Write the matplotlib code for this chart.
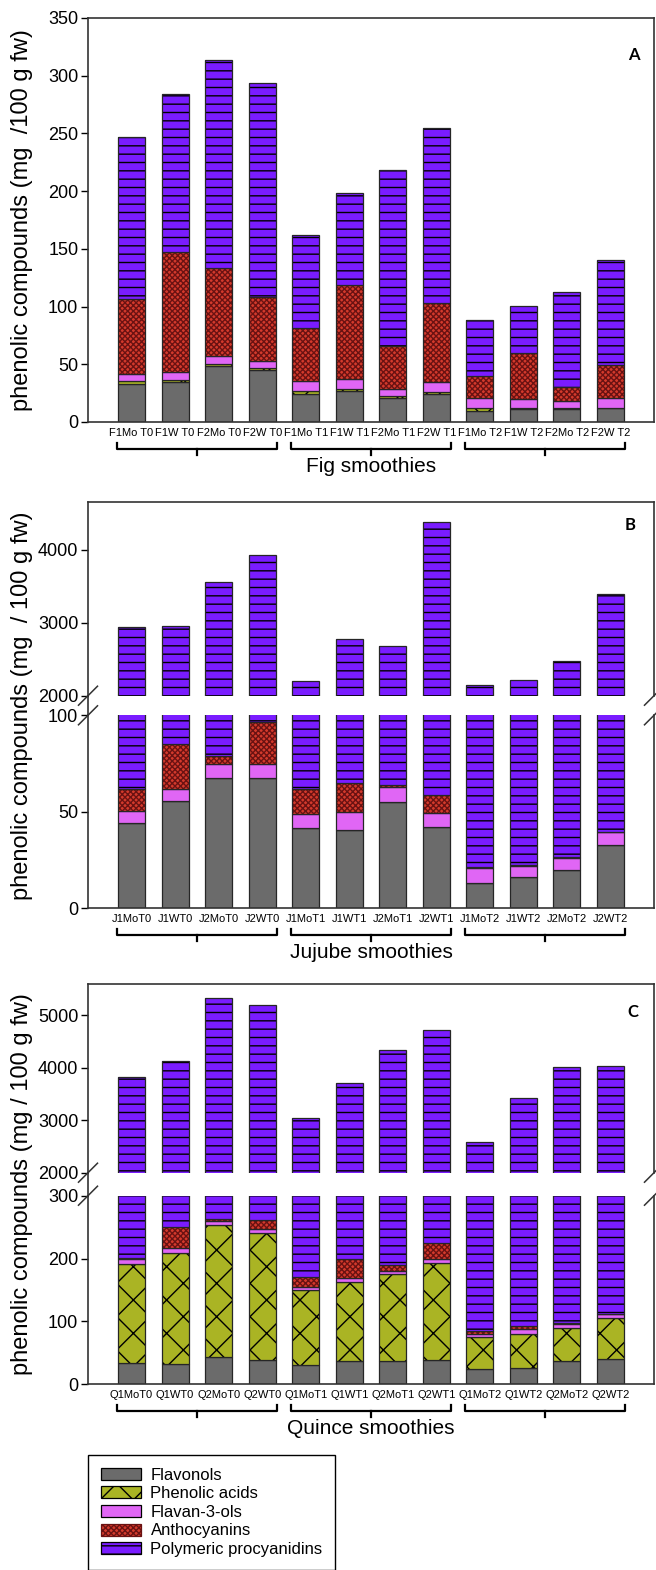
import matplotlib
matplotlib.use('Agg')
import matplotlib.pyplot as plt
import matplotlib.transforms as mtransforms
from matplotlib.lines import Line2D
from matplotlib.patches import Patch
import numpy as np

plt.rcParams['font.family'] = ['Liberation Sans', 'DejaVu Sans']
plt.rcParams['hatch.linewidth'] = 1.0

series = ['Flavonols', 'Phenolic acids', 'Flavan-3-ols', 'Anthocyanins', 'Polymeric procyanidins']

# Panel A - fig smoothies (mg/100 g fw)
fig_labels = ['F1Mo T0', 'F1W T0', 'F2Mo T0', 'F2W T0', 'F1Mo T1', 'F1W T1', 'F2Mo T1', 'F2W T1',
              'F1Mo T2', 'F1W T2', 'F2Mo T2', 'F2W T2']
fig_flavonols = [33.2, 34.7, 48.8, 45.3, 24.3, 26.6, 20.8, 24.5, 9.2, 11.3, 11.3, 11.8]
fig_phenolic = [2.5, 2.0, 1.7, 1.8, 2.8, 2.0, 1.4, 1.5, 2.9, 0.5, 0.5, 0.5]
fig_flavanols = [5.6, 6.9, 6.4, 5.5, 8.7, 8.7, 6.4, 8.7, 8.7, 8.1, 6.4, 8.5]
fig_antho = [65.3, 104.0, 76.5, 55.7, 45.6, 81.1, 37.5, 68.4, 18.8, 39.9, 12.1, 28.3]
fig_polymeric = [140.4, 136.4, 180.2, 185.4, 80.9, 80.3, 151.9, 151.9, 48.5, 40.4, 82.3, 91.5]

# Panel B - jujube smoothies
jujube_labels = ['J1MoT0', 'J1WT0', 'J2MoT0', 'J2WT0', 'J1MoT1', 'J1WT1', 'J2MoT1', 'J2WT1',
                 'J1MoT2', 'J1WT2', 'J2MoT2', 'J2WT2']
jujube_flavonols = [44.2, 55.6, 67.5, 67.4, 41.5, 40.6, 54.9, 42.3, 13.0, 16.1, 19.9, 32.8]
jujube_phenolic = [0, 0, 0, 0, 0, 0, 0, 0, 0, 0, 0, 0]
jujube_flavanols = [6.4, 6.4, 7.1, 7.4, 7.2, 9.1, 8.1, 6.9, 8.1, 6.0, 6.4, 6.9]
jujube_antho = [11.1, 23.0, 4.5, 21.6, 13.0, 15.1, 1.1, 9.7, 0.5, 0.5, 0.5, 0]
jujube_polymeric = [2879.3, 2874.0, 3481.9, 3825.6, 2140.3, 2707.2, 2611.9, 4318.1,
                    2125.4, 2197.4, 2453.2, 3352.3]

# Panel C - quince smoothies
quince_labels = ['Q1MoT0', 'Q1WT0', 'Q2MoT0', 'Q2WT0', 'Q1MoT1', 'Q1WT1', 'Q2MoT1', 'Q2WT1',
                 'Q1MoT2', 'Q1WT2', 'Q2MoT2', 'Q2WT2']
quince_flavonols = [33.3, 32.8, 42.9, 38.6, 30.7, 37.6, 37.0, 38.1, 23.8, 26.5, 37.6, 40.7]
quince_phenolic = [158.7, 176.2, 210.1, 201.7, 119.3, 124.7, 138.6, 154.5, 51.7, 54.3, 52.7, 64.5]
quince_flavanols = [7.5, 8.5, 7.0, 6.9, 5.4, 6.4, 5.4, 6.9, 5.3, 7.4, 6.4, 7.4]
quince_antho = [2.0, 33.5, 3.7, 14.4, 14.9, 30.3, 8.0, 24.9, 4.2, 4.2, 1.0, 0]
quince_polymeric = [3614.5, 3882.0, 5059.3, 4934.4, 2880.7, 3516.0, 4153.0, 4484.6,
                    2497.0, 3331.6, 3915.3, 3925.4]

face = ['#6b6b6b', '#aab424', '#e066f5', '#d43a2c', '#7a1cff']
hatch_col = ['#6b6b6b', 'black', '#e066f5', '#6a1212', 'black']
hatches = [None, 'x', None, 'xxxxxx', '--']
EDGE = '#262626'

W, H = 656, 1570
fig = plt.figure(figsize=(W / 100, H / 100), dpi=100)


def rect(l, t, r, b):
    return [l / W, 1 - b / H, (r - l) / W, (b - t) / H]


def draw_stack(ax, layers):
    x = np.arange(len(layers[0]))
    bottom = np.zeros(len(x))
    for vals, fc, hc, h in zip(layers, face, hatch_col, hatches):
        vals = np.array(vals, dtype=float)
        ax.bar(x, vals, 0.62, bottom=bottom, color=fc, edgecolor=hc, hatch=h, linewidth=0)
        ax.bar(x, vals, 0.62, bottom=bottom, fill=False, edgecolor=EDGE, linewidth=0.9)
        bottom += vals
    ax.set_xlim(-1, 12)
    for s in ax.spines.values():
        s.set_color('#333333')
        s.set_linewidth(1.2)
    ax.tick_params(axis='y', direction='out', length=5, width=1, labelsize=13, pad=2)


def x_labels(ax, labels):
    ax.set_xticks(np.arange(len(labels)))
    ax.set_xticklabels(labels, fontsize=8)
    ax.tick_params(axis='x', length=0, pad=4)


def brackets(ax, bottom_px, text):
    tr = mtransforms.blended_transform_factory(ax.transData, fig.transFigure)
    y1 = 1 - (bottom_px + 21) / H
    y2 = 1 - (bottom_px + 27) / H
    y3 = 1 - (bottom_px + 33) / H
    for g in range(3):
        x0 = g * 4 - 0.33
        x1 = g * 4 + 3 + 0.33
        xc = (x0 + x1) / 2
        ax.plot([x0, x0, x1, x1], [y1, y2, y2, y1], color='black', lw=1.6,
                transform=tr, clip_on=False, solid_joinstyle='round')
        ax.plot([xc, xc], [y2, y3], color='black', lw=1.6, transform=tr, clip_on=False)
    fig.text((88 + 654) / 2 / W, 1 - (bottom_px + 44) / H, text, ha='center', va='center',
             fontsize=15)


def break_marks(y_top, y_bot):
    d = 9.5
    for xp in (88, 654):
        for yp in (y_top, y_bot):
            fig.add_artist(Line2D([(xp - d) / W, (xp + d) / W], [1 - (yp + d) / H, 1 - (yp - d) / H],
                                  transform=fig.transFigure, color='#333333', lw=1.1))
    fig.add_artist(Line2D([88 / W, 88 / W], [1 - y_top / H, 1 - y_bot / H],
                          transform=fig.transFigure, color='#333333', lw=1.2))


def ylab(center_px, text):
    fig.text(22 / W, 1 - center_px / H, text, rotation=90, ha='center', va='center', fontsize=17)


# ---- Panel A ----
fig_layers = [fig_flavonols, fig_phenolic, fig_flavanols, fig_antho, fig_polymeric]
axA = fig.add_axes(rect(88, 18, 654, 422))
draw_stack(axA, fig_layers)
axA.set_ylim(0, 350)
axA.set_yticks(range(0, 351, 50))
x_labels(axA, fig_labels)
axA.text(0.965, 0.908, 'A', transform=axA.transAxes, fontsize=12, fontweight='bold',
         family='Lato', ha='center', va='center')
brackets(axA, 422, 'Fig smoothies')
ylab(220, 'phenolic compounds (mg  /100 g fw)')


# ---- broken panels ----
def broken_panel(layers, labels, top, mid_top, mid_bot, bottom, up_lim, up_ticks,
                 low_lim, low_ticks, letter, letter_pos, group, ytext):
    up = fig.add_axes(rect(88, top, 654, mid_top))
    low = fig.add_axes(rect(88, mid_bot, 654, bottom))
    draw_stack(up, layers)
    draw_stack(low, layers)
    up.set_ylim(*up_lim)
    up.set_yticks(up_ticks)
    low.set_ylim(*low_lim)
    low.set_yticks(low_ticks)
    up.spines['bottom'].set_visible(False)
    low.spines['top'].set_visible(False)
    up.set_xticks([])
    x_labels(low, labels)
    up.text(letter_pos[0], letter_pos[1], letter, transform=up.transAxes, fontsize=12,
            fontweight='bold', family='Lato', ha='center', va='center')
    break_marks(mid_top, mid_bot)
    brackets(low, bottom, group)
    ylab((top + bottom) / 2, ytext)


jujube_layers = [jujube_flavonols, jujube_phenolic, jujube_flavanols, jujube_antho, jujube_polymeric]
broken_panel(jujube_layers, jujube_labels, 502.3, 695.7, 715.3, 908.3, (2000, 4650),
             [2000, 3000, 4000], (0, 100), [0, 50, 100], 'B', (0.958, 0.883),
             'Jujube smoothies', 'phenolic compounds (mg  / 100 g fw)')

quince_layers = [quince_flavonols, quince_phenolic, quince_flavanols, quince_antho, quince_polymeric]
broken_panel(quince_layers, quince_labels, 983.7, 1172.7, 1195.7, 1384.3, (2000, 5600),
             [2000, 3000, 4000, 5000], (0, 300), [0, 100, 200, 300], 'C', (0.963, 0.85),
             'Quince smoothies', 'phenolic compounds (mg / 100 g fw)')

# ---- legend ----
handles = [Patch(facecolor=fc, edgecolor=('black' if h != 'xxxxxx' else hc), hatch=h, linewidth=0.9)
           for fc, hc, h in zip(face, hatch_col, hatches)]
leg = fig.legend(handles, series, loc='upper left', bbox_to_anchor=(88 / W, 1 - 1455 / H),
                 frameon=True, fancybox=False, edgecolor='black', framealpha=1, fontsize=12,
                 handlelength=2.4, handleheight=0.75, labelspacing=0.22, handletextpad=0.6,
                 borderpad=0.75, borderaxespad=0)
leg.get_frame().set_linewidth(1.0)

fig.savefig('out.png', dpi=100)
